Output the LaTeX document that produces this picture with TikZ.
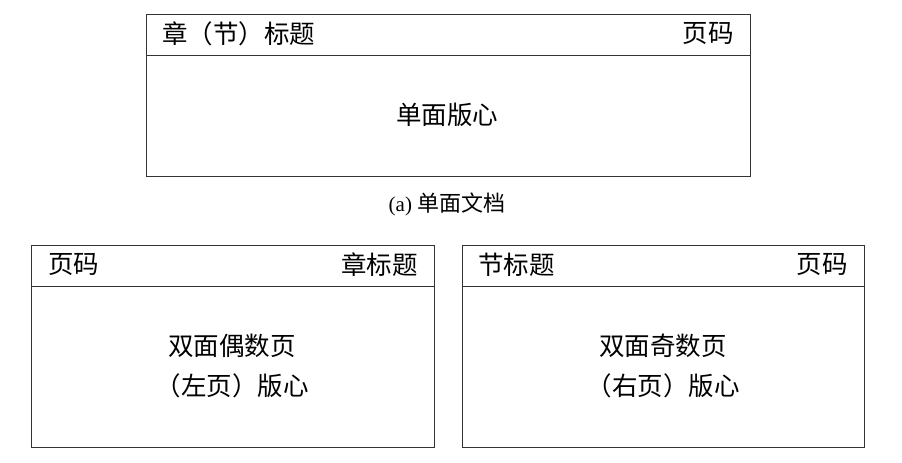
\documentclass[tikz,border=0pt]{standalone}
\usepackage{fontspec}
\setmainfont{Liberation Serif}
\newfontfamily\cjk{Noto Sans CJK SC}
\begin{document}
\begin{tikzpicture}[x=1pt,y=-1pt,
  frame/.style={draw=black!80,line width=0.9pt},
  hdr/.style={font=\cjk\fontsize{25.5}{28}\selectfont,inner sep=0pt},
  bodytxt/.style={font=\cjk\fontsize{25.5}{40}\selectfont,align=center,inner sep=0pt},
  captxt/.style={font=\fontsize{21}{24}\selectfont,inner sep=0pt}]
\useasboundingbox (0,0) rectangle (902,463);
% top box
\draw[frame] (146,14) rectangle (750,176);
\coordinate (tl) at (146,55);
\coordinate (tr) at (750,55);
\draw[frame] (tl) -- (tr);
\node[hdr,anchor=west] (t1) at (162,34) {章（节）标题};
\node[hdr,anchor=east] (t2) at (734,34) {页码};
\node[bodytxt] (t3) at (447,115) {单面版心};
\node[captxt] (capa) at (447,204) {(a) {\cjk\fontsize{22}{24}\selectfont 单面文档}};
% bottom left
\draw[frame] (31,245) rectangle (434,447);
\coordinate (ll) at (31,286);
\coordinate (lr) at (434,286);
\draw[frame] (ll) -- (lr);
\node[hdr,anchor=west] (l1) at (48,265) {页码};
\node[hdr,anchor=east] (l2) at (418,265) {章标题};
\node[bodytxt] (l3) at (232,366) {双面偶数页\\（左页）版心};
% bottom right
\draw[frame] (462,245) rectangle (864,447);
\coordinate (rl) at (462,286);
\coordinate (rr) at (864,286);
\draw[frame] (rl) -- (rr);
\node[hdr,anchor=west] (r1) at (478,265) {节标题};
\node[hdr,anchor=east] (r2) at (848,265) {页码};
\node[bodytxt] (r3) at (663,366) {双面奇数页\\（右页）版心};
\end{tikzpicture}
\end{document}
